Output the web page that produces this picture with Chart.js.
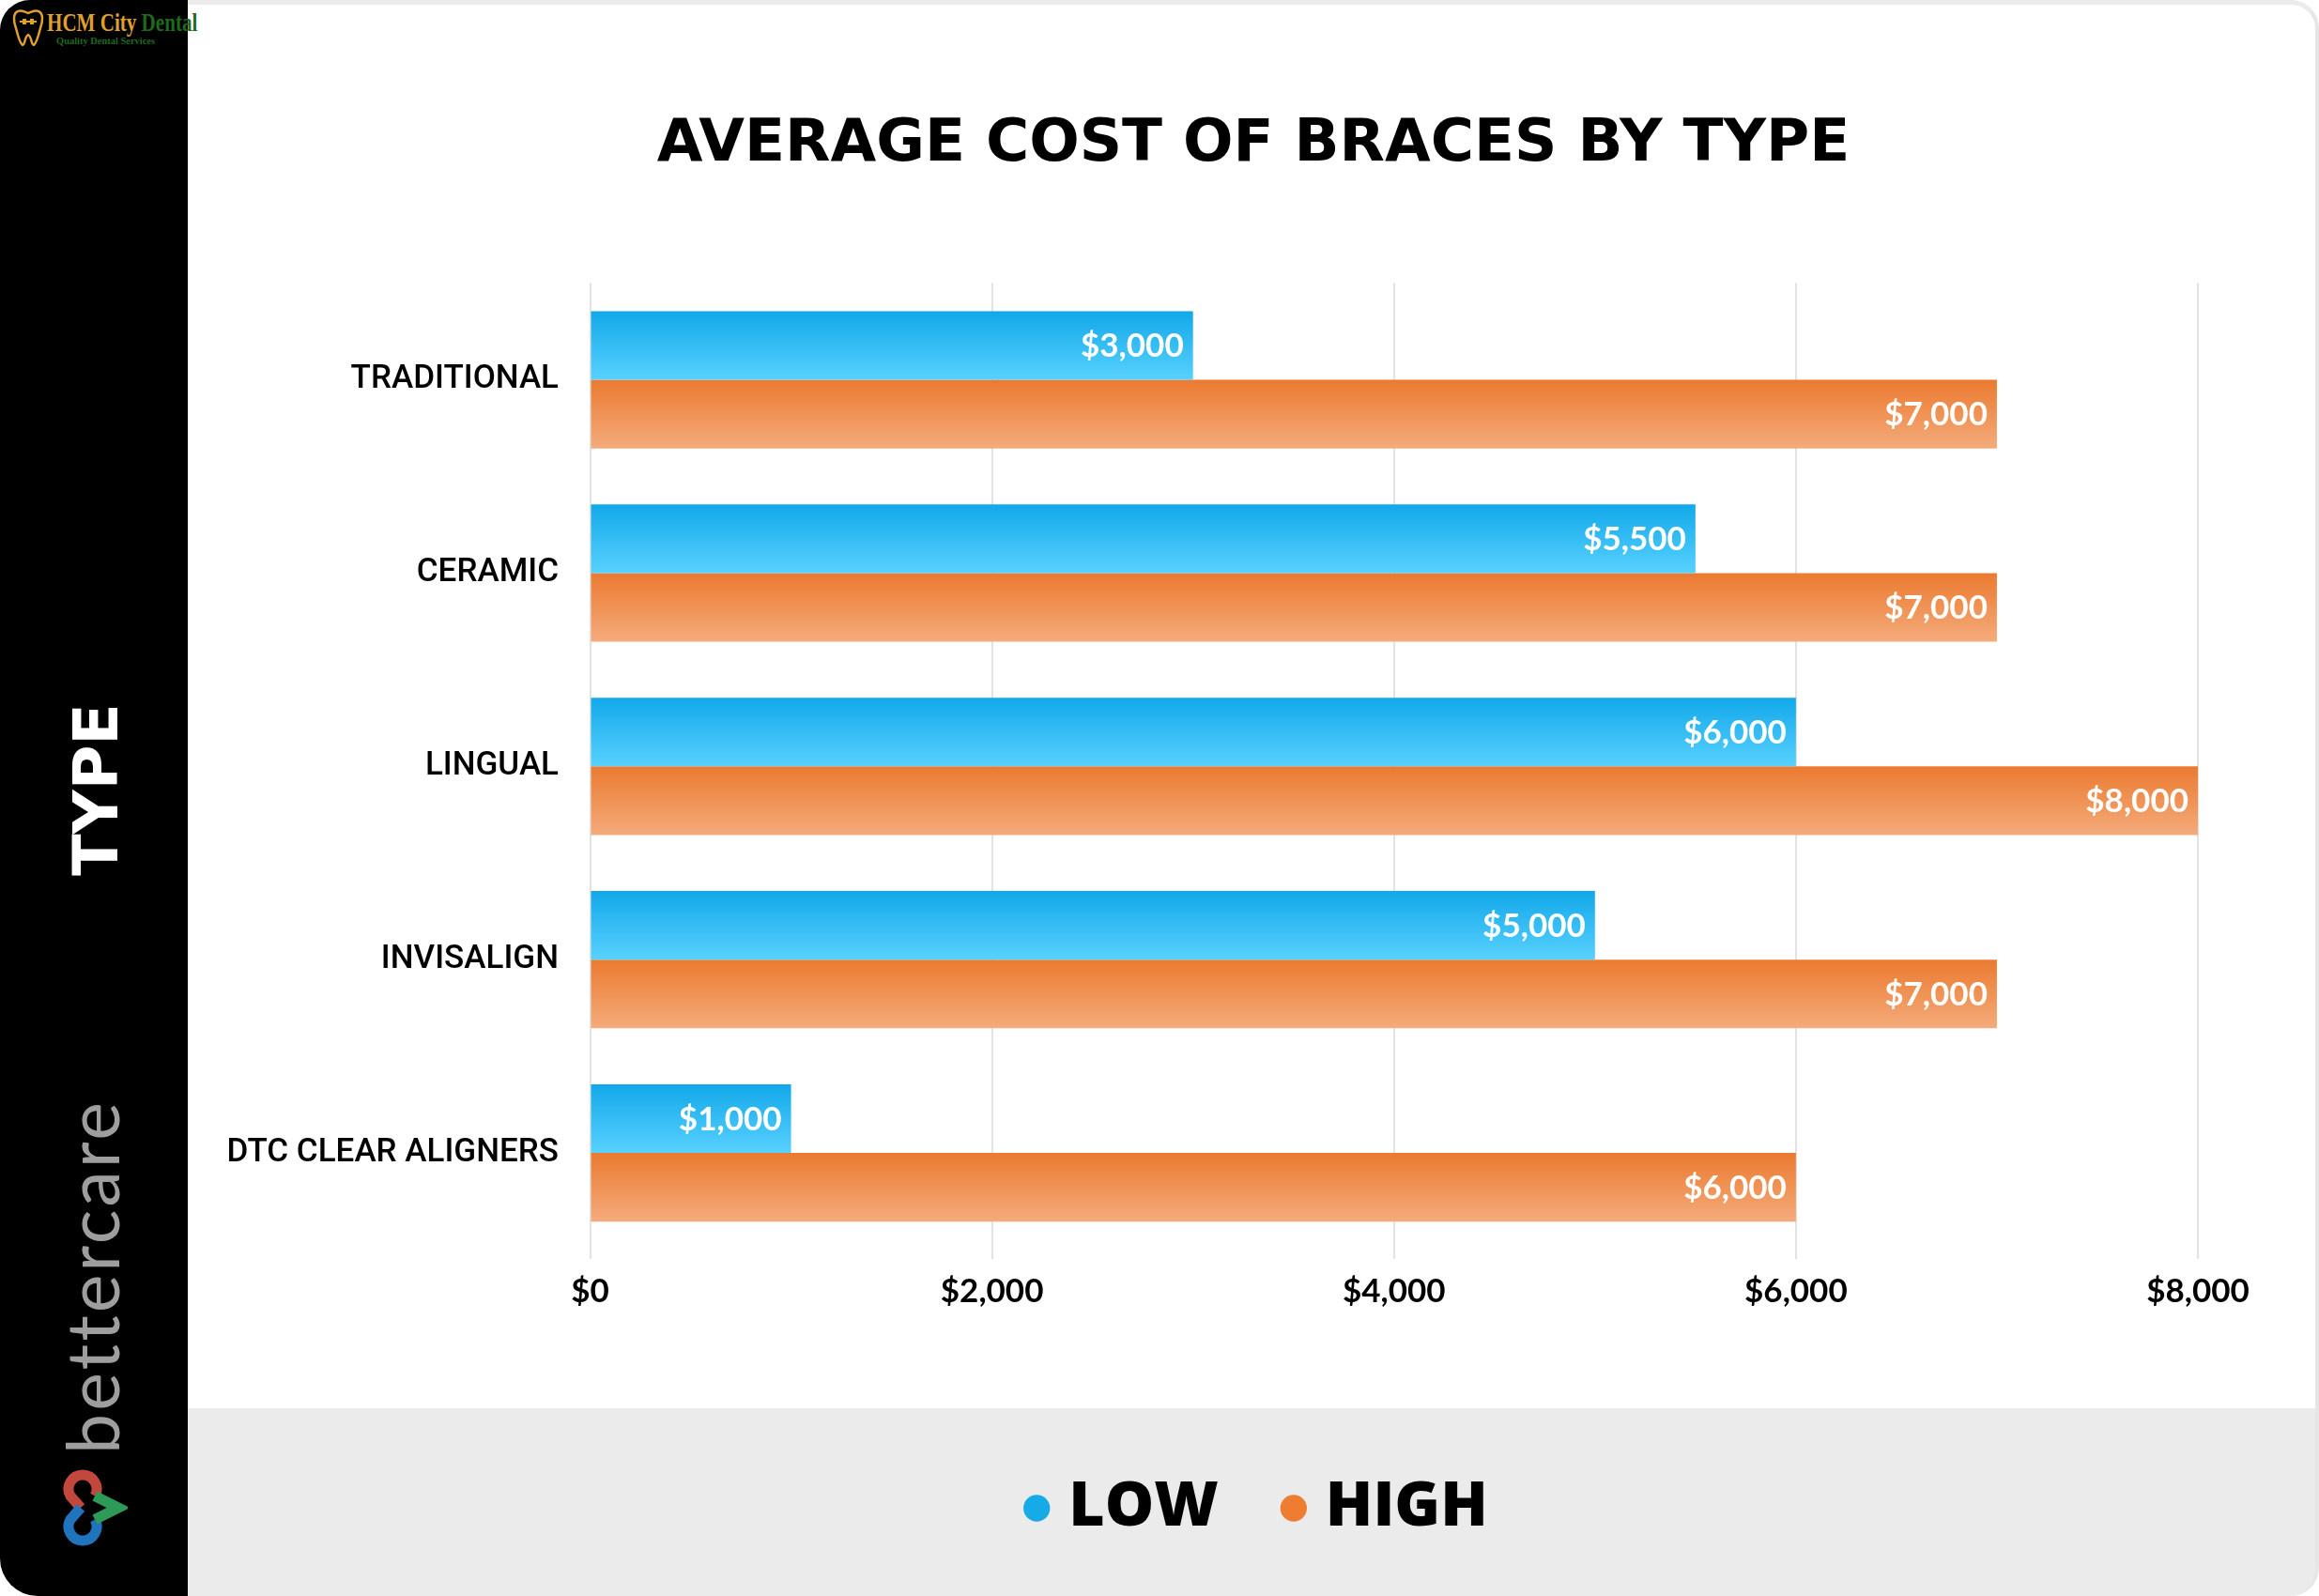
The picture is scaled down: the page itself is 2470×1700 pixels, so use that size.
<!DOCTYPE html>
<html>
<head>
<meta charset="utf-8">
<script src="https://cdn.jsdelivr.net/npm/chart.js@4.4.1/dist/chart.umd.min.js"></script>
<style>
  html, body { margin: 0; padding: 0; background: #fff; }
  body { width: 2470px; height: 1700px; position: relative; overflow: hidden; font-family: Lato, sans-serif; }
  #card {
    position: absolute; left: 200px; top: 0; width: 2270px; height: 1700px; box-sizing: border-box;
    border-top: 5px solid #ebebeb; border-right: 4px solid #e6e6e6;
    border-radius: 0 30px 30px 0;
    background: linear-gradient(#fff 0, #fff 1495px, #ebebeb 1495px);
  }
  #side { position: absolute; left: 0; top: 0; width: 200px; height: 1700px; background: #000; border-radius: 32px 0 0 40px; }
  .rot { position: absolute; transform: translate(-50%, -50%) rotate(-90deg); white-space: nowrap; line-height: 1; }
  #typeLabel { left: 102px; top: 841px; color: #fff; font: bold 65px "DejaVu Sans"; }
  #brand { left: 97px; top: 1360px; color: #9e9e9e; font: 400 77px Lato; letter-spacing: 3px; }
  #heart { position: absolute; left: 56px; top: 1562px; }
  #hcm { position: absolute; left: 12px; top: 8px; }
  #hcmText { position: absolute; left: 50px; top: 9px; font: bold 27px "Liberation Serif"; white-space: nowrap; transform-origin: 0 0; transform: scaleX(0.78); }
  #hcmSub { position: absolute; left: 60px; top: 37px; font: bold 11px "Liberation Serif"; color: #1d6a1d; white-space: nowrap; transform-origin: 0 0; transform: scaleX(0.95); }
  #wrap { position: absolute; left: 200px; top: 0; width: 2270px; height: 1700px; }
</style>
</head>
<body>
<div id="card"></div>
<div id="side"></div>
<div id="typeLabel" class="rot">TYPE</div>
<div id="brand" class="rot">bettercare</div>
<svg id="heart" width="80" height="90" viewBox="0 0 80 90">
  <path d="M45 31.5 A15 15 0 1 0 19 31.5 L30 44" fill="none" stroke="#c2473d" stroke-width="11"/>
  <path d="M30 44 L19 56.5 A15 15 0 1 0 45 56.5" fill="none" stroke="#1f74bd" stroke-width="11"/>
  <path d="M45 31.5 L70 44 L45 56.5" fill="none" stroke="#2e9a58" stroke-width="11"/>
</svg>
<svg id="hcm" width="36" height="44" viewBox="0 0 36 44">
  <path d="M7 4 C2 6 2 14 5 22 C7 30 9 38 12 40 C15 40 14 31 18 29 C22 31 21 40 24 40 C27 38 29 30 31 22 C34 14 34 6 29 4 C25 2 22 5 18 6 C14 5 11 2 7 4 Z" fill="none" stroke="#dfa02c" stroke-width="2.5"/>
  <path d="M9 15 H27" stroke="#dfa02c" stroke-width="2"/>
  <rect x="12" y="12" width="4" height="6" fill="#dfa02c"/><rect x="20" y="12" width="4" height="6" fill="#dfa02c"/>
</svg>
<div id="hcmText"><span style="color:#dfa02c">HCM City</span> <span style="color:#1d6a1d">Dental</span></div>
<div id="hcmSub">Quality Dental Services</div>
<div id="wrap"><canvas id="chart"></canvas></div>

<script>
const categories = ['TRADITIONAL', 'CERAMIC', 'LINGUAL', 'INVISALIGN', 'DTC CLEAR ALIGNERS'];
const lowCost = [3000, 5500, 6000, 5000, 1000];
const highCost = [7000, 7000, 8000, 7000, 6000];
const seriesNames = ['LOW', 'HIGH'];
const xTicks = [0, 2000, 4000, 6000, 8000];

const dotColors = ['#16abe6', '#ef7d31'];
const catPct = 0.71;

function money(v) {
    return '$' + v.toLocaleString('en-US');
}

// vertical gradient that follows each bar
function barFill(topColor, bottomColor) {
    return function (context) {
        const chart = context.chart;
        const y = chart.scales.y;
        if (!y || context.type !== 'data' || !chart.chartArea) return topColor;
        const half = y.height / categories.length * catPct / 2;
        const center = y.getPixelForValue(context.dataIndex);
        const start = context.datasetIndex === 0 ? center - half : center;
        const g = chart.ctx.createLinearGradient(0, start, 0, start + half);
        g.addColorStop(0, topColor);
        g.addColorStop(1, bottomColor);
        return g;
    };
}

const valueLabels = {
    id: 'valueLabels',
    afterLayout(chart) {
        // nudge legend so the dots+labels sit centred like the original
        chart.legend.left += 9;
        chart.legend.right += 9;
    },
    afterDatasetsDraw(chart) {
        const ctx = chart.ctx;
        ctx.save();
        ctx.font = '700 35px Lato';
        ctx.fillStyle = '#fff';
        ctx.textAlign = 'right';
        ctx.textBaseline = 'middle';
        chart.data.datasets.forEach((ds, i) => {
            chart.getDatasetMeta(i).data.forEach((bar, j) => {
                ctx.fillText(money(ds.data[j]), bar.x - 10, bar.y + 1);
            });
        });
        ctx.restore();
    }
};

const ctx = document.getElementById('chart').getContext('2d');

new Chart(ctx, {
    type: 'bar',
    data: {
        labels: categories,
        datasets: [{
            label: seriesNames[0],
            data: lowCost,
            backgroundColor: barFill('#12a8ea', '#58d1fe'),
            borderWidth: 0
        }, {
            label: seriesNames[1],
            data: highCost,
            backgroundColor: barFill('#eb7a30', '#f4ab7b'),
            borderWidth: 0
        }]
    },
    options: {
        indexAxis: 'y',
        responsive: true,
        maintainAspectRatio: false,
        animation: false,
        categoryPercentage: catPct,
        barPercentage: 1,
        layout: {
            padding: { top: 0, right: 0, bottom: 50.5, left: 0 }
        },
        scales: {
            x: {
                min: 0,
                max: 8000,
                afterBuildTicks: (scale) => { scale.ticks = xTicks.map(v => ({ value: v })); },
                afterFit: (scale) => { scale.height = 163.5; },
                grid: { color: '#e2e2e2', lineWidth: 2, drawTicks: true, tickLength: 10 },
                border: { display: false },
                ticks: {
                    color: '#000',
                    font: { family: 'Lato', weight: '700', size: 35 },
                    padding: 13.5,
                    maxRotation: 0,
                    callback: (v) => money(v)
                }
            },
            y: {
                afterFit: (scale) => { scale.width = 428.5; },
                grid: { display: false, drawTicks: false },
                border: { display: false },
                ticks: {
                    color: '#000',
                    font: { family: 'Roboto', weight: '500', size: 35 },
                    padding: 33.5
                }
            },
            // empty right-hand spacer so the plot ends where the reference does
            spacer: {
                type: 'linear',
                axis: 'y',
                position: 'right',
                afterFit: (scale) => { scale.width = 129; },
                grid: { display: false, drawTicks: false },
                border: { display: false },
                ticks: { display: false }
            }
        },
        plugins: {
            title: {
                display: true,
                text: 'AVERAGE COST OF BRACES BY TYPE',
                color: '#000',
                font: { family: 'DejaVu Sans', weight: 'bold', size: 63 },
                padding: { top: 117, bottom: 109 }
            },
            legend: {
                position: 'bottom',
                labels: {
                    usePointStyle: true,
                    pointStyle: 'circle',
                    boxWidth: 2,
                    boxHeight: 20,
                    padding: 79,
                    color: '#000',
                    font: { family: 'Open Sans', weight: '800', size: 66 },
                    generateLabels(chart) {
                        const items = Chart.defaults.plugins.legend.labels.generateLabels(chart);
                        items.forEach((it, i) => {
                            it.fillStyle = dotColors[i];
                            it.strokeStyle = dotColors[i];
                            it.lineWidth = 0;
                        });
                        return items;
                    }
                }
            },
            tooltip: { enabled: false }
        }
    },
    plugins: [valueLabels]
});
</script>
</body>
</html>
